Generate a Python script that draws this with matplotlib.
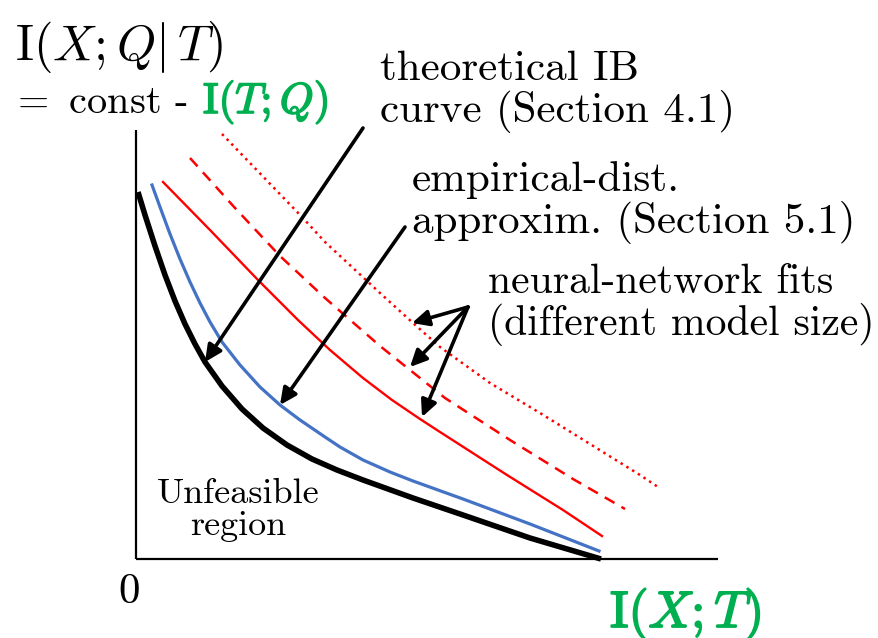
import matplotlib.pyplot as plt
import matplotlib.patheffects as pe

plt.rcParams["font.family"] = "cmr10"
plt.rcParams["mathtext.fontset"] = "cm"
plt.rcParams["axes.formatter.use_mathtext"] = True

GREEN = "#00B050"
BLUE = "#4472C4"
RED = "#FF0000"

# Curves (x = I(X;T), y = I(X;Q|T), arbitrary units)
ib_x = [0.02, 0.09, 0.19, 0.29, 0.39, 0.49, 0.59, 0.69, 0.86, 1.06, 1.27,
        1.51, 1.76, 2.01, 2.27, 2.77, 3.27, 3.94, 4.65]
ib_y = [3.67, 3.44, 3.13, 2.84, 2.58, 2.35, 2.15, 1.97, 1.73, 1.50, 1.31,
        1.14, 1.00, 0.89, 0.79, 0.61, 0.44, 0.21, 0.00]

emp_x = [0.16, 0.24, 0.34, 0.44, 0.54, 0.64, 0.74, 0.86, 1.04, 1.24, 1.44,
         1.64, 1.89, 2.04, 2.27, 2.54, 2.77, 3.27, 3.94, 4.63]
emp_y = [3.74, 3.52, 3.25, 3.00, 2.77, 2.56, 2.37, 2.17, 1.94, 1.72, 1.54,
         1.39, 1.22, 1.12, 0.99, 0.87, 0.78, 0.60, 0.35, 0.08]

nn_big_x = [0.27, 0.74, 1.22, 1.62, 1.94, 2.27, 2.56, 2.84, 3.04, 3.71, 4.27, 4.66]
nn_big_y = [3.77, 3.29, 2.79, 2.39, 2.09, 1.81, 1.59, 1.40, 1.27, 0.84, 0.49, 0.23]

nn_mid_x = [0.54, 0.99, 1.44, 1.89, 2.44, 3.09, 3.74, 4.37, 4.89]
nn_mid_y = [4.01, 3.51, 3.03, 2.61, 2.13, 1.61, 1.19, 0.80, 0.50]

nn_small_x = [0.86, 1.66, 1.89, 2.44, 2.77, 3.04, 3.54, 4.04, 5.04, 5.22]
nn_small_y = [4.25, 3.42, 3.17, 2.66, 2.36, 2.12, 1.76, 1.46, 0.84, 0.72]

# annotation arrows: (start, tip)
ib_arrow = ((2.27, 4.31), (0.69, 1.97))
emp_arrow = ((2.69, 3.32), (1.44, 1.54))
nn_origin = (3.32, 2.52)
nn_tips = [(2.76, 2.36), (2.74, 1.92), (2.86, 1.42)]

x_axis_end = 5.82
y_axis_end = 4.29

W, H = 879, 638


def fpos(px, py):
    # pixel position in the sketch -> figure fraction
    return px / W, 1 - py / H


fig = plt.figure(figsize=(W / 100, H / 100), dpi=100)
ax = fig.add_axes([0, 0, 1, 1])
ax.set_xlim(-1.36, -1.36 + W / 100)
ax.set_ylim(-0.79, -0.79 + H / 100)
ax.axis("off")

# axes lines
ax.plot([0, 0], [0, y_axis_end], color="black", lw=1.6, solid_capstyle="butt")
ax.plot([0, x_axis_end], [0, 0], color="black", lw=1.6, solid_capstyle="butt")

ax.plot(nn_small_x, nn_small_y, color=RED, lw=1.8, linestyle=(0, (1, 1.7)))
ax.plot(nn_mid_x, nn_mid_y, color=RED, lw=1.8, linestyle=(0, (4.5, 3.2)))
ax.plot(nn_big_x, nn_big_y, color=RED, lw=1.7)
ax.plot(emp_x, emp_y, color=BLUE, lw=2.3)
ax.plot(ib_x, ib_y, color="black", lw=4.0, solid_capstyle="butt")

arrow_kw = dict(
    arrowstyle="-|>,head_length=0.5,head_width=0.24",
    mutation_scale=20,
    color="black",
    lw=2.6,
    shrinkA=0,
    shrinkB=0,
)
for start, tip in [ib_arrow, emp_arrow]:
    ax.annotate("", xy=tip, xytext=start, arrowprops=arrow_kw)
for tip in nn_tips:
    ax.annotate("", xy=tip, xytext=nn_origin, arrowprops=arrow_kw)

# labels
fig.text(*fpos(15, 60), r"$\mathrm{I}(X;Q|\,T)$", fontsize=36, va="baseline")
fig.text(*fpos(10, 113), r"$=$ const -", fontsize=29, va="baseline")
fig.text(*fpos(203, 113), r"$\mathrm{I}(T;Q)$", fontsize=31, color=GREEN,
         va="baseline",
         path_effects=[pe.withStroke(linewidth=1.2, foreground=GREEN)])

fig.text(*fpos(129, 592), "0", fontsize=31, ha="center", va="center")
fig.text(*fpos(610, 627), r"$\mathrm{I}(X;T)$", fontsize=37, color=GREEN,
         va="baseline",
         path_effects=[pe.withStroke(linewidth=1.3, foreground=GREEN)])

# multi-line texts: anchored on the baseline of their last line
fig.text(*fpos(380, 122), "theoretical IB\ncurve (Section 4.1)", fontsize=31,
         va="baseline", linespacing=1.05)
fig.text(*fpos(412, 233), "empirical-dist.\napproxim. (Section 5.1)", fontsize=31,
         va="baseline", linespacing=1.05)
fig.text(*fpos(488, 335), "neural-network fits\n(different model size)", fontsize=30,
         va="baseline", linespacing=1.05)
fig.text(*fpos(238, 535), "Unfeasible\nregion", fontsize=26, ha="center",
         va="baseline", linespacing=1.0)

fig.savefig("out.png", dpi=100)
